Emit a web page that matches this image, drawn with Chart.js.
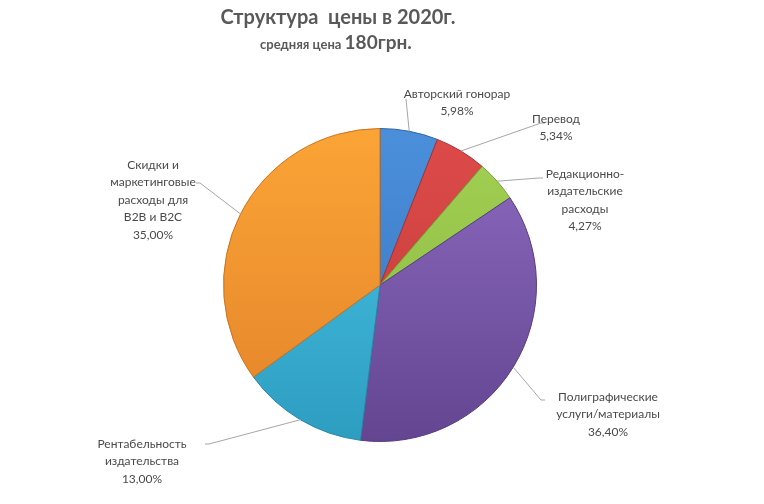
<!DOCTYPE html>
<html>
<head>
<meta charset="utf-8">
<script src="https://cdn.jsdelivr.net/npm/chart.js@4.4.0/dist/chart.umd.min.js"></script>
<style>
  html, body { margin: 0; padding: 0; background: #fff; }
  canvas { display: block; }
</style>
</head>
<body>
<canvas id="graficoPrecio" width="764" height="504"></canvas>
<script>
// Данные: структура цены, %
const categorias = [
    'Авторский гонорар',
    'Перевод',
    'Редакционно-издательские расходы',
    'Полиграфические услуги/материалы',
    'Рентабельность издательства',
    'Скидки и маркетинговые расходы для B2B и B2C'
];
const porcentajes = [5.98, 5.34, 4.27, 36.40, 13.00, 35.00];

// как подписи разбиты на строки
const lineasEtiqueta = [
    ['Авторский гонорар'],
    ['Перевод'],
    ['Редакционно-', 'издательские', 'расходы'],
    ['Полиграфические', 'услуги/материалы'],
    ['Рентабельность', 'издательства'],
    ['Скидки и', 'маркетинговые', 'расходы для', 'B2B и B2C']
];

// цвета секторов: верх / низ градиента
const coloresArriba = ['#4b8fdb', '#dd4b49', '#a3d054', '#8e6bc1', '#4bc5e7', '#fba436'];
const coloresAbajo  = ['#3873bd', '#c13a38', '#87b840', '#634591', '#2d9dc0', '#e3832a'];
const coloresBorde  = ['#2f63a3', '#a83230', '#76a337', '#573c80', '#2788a8', '#c7721f'];

// где стоят подписи (центр первой строки) и куда приходит линия-выноска
// dx - короткий горизонтальный "хвостик" у подписи
const posEtiqueta = [
    { x: 457, y: 94,  lx: 406, ly: 99,  dx: 0 },
    { x: 556, y: 119, lx: 541, ly: 123, dx: 4 },
    { x: 585, y: 174, lx: 539, ly: 178, dx: 4 },
    { x: 608, y: 397, lx: 541, ly: 400, dx: 4 },
    { x: 142, y: 444, lx: 209, ly: 444, dx: -4 },
    { x: 153, y: 165, lx: 200, ly: 183, dx: -4 }
];
const altoLinea = 17.5;

function formatoPct(v) {
    return v.toFixed(2).replace('.', ',') + '%';
}

// заголовок
const pluginTitulo = {
    id: 'titulo',
    afterDraw(chart) {
        const ctx = chart.ctx;
        ctx.save();
        ctx.fillStyle = '#595959';
        ctx.textBaseline = 'alphabetic';
        ctx.textAlign = 'center';
        ctx.font = 'bold 20px Lato';
        ctx.fillText('Структура  цены в 2020г.', 338, 24);

        ctx.textAlign = 'left';
        ctx.font = 'bold 13px Lato';
        const parte1 = 'средняя цена ';
        ctx.fillText(parte1, 260, 49);
        const w = ctx.measureText(parte1).width;
        ctx.font = 'bold 19px Lato';
        ctx.fillText('180грн.', 260 + w, 49);
        ctx.restore();
    }
};

// подписи с выносками
const pluginEtiquetas = {
    id: 'etiquetas',
    afterDatasetsDraw(chart) {
        const ctx = chart.ctx;
        const meta = chart.getDatasetMeta(0);
        ctx.save();
        meta.data.forEach(function(arco, i) {
            const p = arco.getProps(['x', 'y', 'startAngle', 'endAngle', 'outerRadius'], true);
            const medio = (p.startAngle + p.endAngle) / 2;
            const ax = p.x + Math.cos(medio) * p.outerRadius;
            const ay = p.y + Math.sin(medio) * p.outerRadius;
            const pos = posEtiqueta[i];

            ctx.strokeStyle = '#a6a6a6';
            ctx.lineWidth = 1;
            ctx.beginPath();
            ctx.moveTo(ax, ay);
            ctx.lineTo(pos.lx, pos.ly);
            if (pos.dx) ctx.lineTo(pos.lx + pos.dx, pos.ly);
            ctx.stroke();

            ctx.fillStyle = '#4a4a4a';
            ctx.font = '12px Lato';
            ctx.textAlign = 'center';
            ctx.textBaseline = 'middle';
            const lineas = lineasEtiqueta[i].concat([formatoPct(porcentajes[i])]);
            lineas.forEach(function(t, k) {
                ctx.fillText(t, pos.x, pos.y + k * altoLinea);
            });
        });
        ctx.restore();
    }
};

function gradiente(context) {
    const chart = context.chart;
    const area = chart.chartArea;
    const i = context.dataIndex;
    if (!area) return coloresArriba[i];
    const g = chart.ctx.createLinearGradient(0, area.top, 0, area.bottom);
    g.addColorStop(0, coloresArriba[i]);
    g.addColorStop(1, coloresAbajo[i]);
    return g;
}

new Chart(document.getElementById('graficoPrecio'), {
    type: 'pie',
    data: {
        labels: categorias,
        datasets: [{
            data: porcentajes,
            backgroundColor: gradiente,
            borderColor: coloresBorde,
            borderWidth: 1
        }]
    },
    options: {
        responsive: false,
        animation: false,
        events: [],
        layout: {
            padding: { top: 128, bottom: 62, left: 223, right: 227 }
        },
        plugins: {
            legend: { display: false },
            tooltip: { enabled: false },
            title: { display: false }
        }
    },
    plugins: [pluginTitulo, pluginEtiquetas]
});
</script>
</body>
</html>
